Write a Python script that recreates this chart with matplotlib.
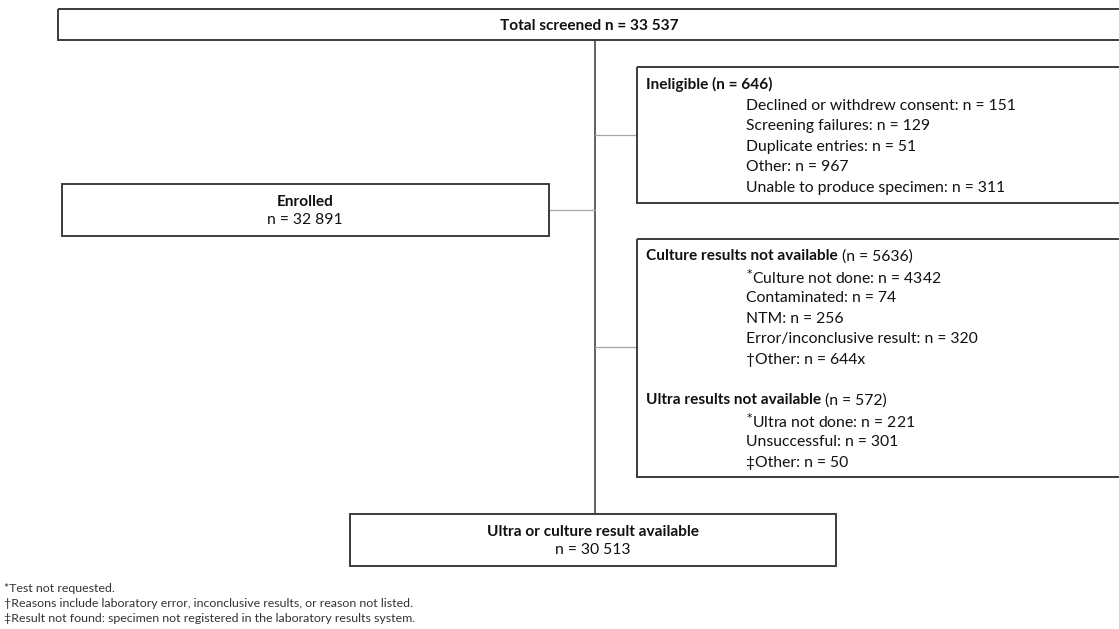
import matplotlib
matplotlib.use("Agg")
import matplotlib.pyplot as plt
from matplotlib.patches import Rectangle

plt.rcParams['font.family'] = ['Lato', 'DejaVu Sans']
plt.rcParams['mathtext.fontset'] = 'dejavusans'

# ---------------- data ----------------
total_label = "Total screened n = 33 537"
enrolled_title = "Enrolled"
enrolled_n = "n = 32 891"

ineligible_title = "Ineligible (n = 646)"
ineligible_items = ["Declined or withdrew consent", "Screening failures",
                    "Duplicate entries", "Other", "Unable to produce specimen"]
ineligible_counts = ["151", "129", "51", "967", "311"]

culture_title = "Culture results not available"
culture_n = " (n = 5636)"
culture_items = ["$^{*}$Culture not done", "Contaminated", "NTM",
                 "Error/inconclusive result", "\u2020Other"]
culture_counts = ["4342", "74", "256", "320", "644x"]

ultra_title = "Ultra results not available"
ultra_n = " (n = 572)"
ultra_items = ["$^{*}$Ultra not done", "Unsuccessful", "\u2021Other"]
ultra_counts = ["221", "301", "50"]

final_title = "Ultra or culture result available"
final_n = "n = 30 513"

footnotes = ["*Test not requested.",
             "\u2020Reasons include laboratory error, inconclusive results, or reason not listed.",
             "\u2021Result not found: specimen not registered in the laboratory results system."]

# ---------------- figure ----------------
W, H = 1119, 629
fig = plt.figure(figsize=(W / 100, H / 100), dpi=100)
ax = fig.add_axes([0, 0, 1, 1])
ax.set_xlim(0, W)
ax.set_ylim(H, 0)
ax.axis('off')

BOX_EC = '#3c3c3c'
BOX_LW = 1.4
CON_C = '#a6a6a6'
TXT = '#111111'
FS = 11.3
FS_BOLD = 11.1
FS_FOOT = 8.9


def box(x0, y0, x1, y1):
    ax.add_patch(Rectangle((x0, y0), x1 - x0, y1 - y0, fill=False,
                           ec=BOX_EC, lw=BOX_LW, zorder=3))


def txt(x, y, s, bold=False, ha='left', size=None, color=TXT):
    if size is None:
        size = FS_BOLD if bold else FS
    return ax.text(x, y, s, ha=ha, va='center_baseline', fontsize=size,
                   fontweight='bold' if bold else 'normal', color=color, zorder=4)


# trunk
ax.plot([595, 595], [40, 514], color='#454545', lw=1.2, zorder=2)
# connectors
ax.plot([549, 595], [210, 210], color=CON_C, lw=0.9, zorder=2)
ax.plot([595, 637], [135, 135], color=CON_C, lw=0.9, zorder=2)
ax.plot([595, 637], [347, 347], color=CON_C, lw=0.9, zorder=2)

# top box
box(58, 9, 1135, 40)
txt(589, 25, total_label, bold=True, ha='center')

# enrolled
box(62, 184, 549, 236)
txt(305, 201, enrolled_title, bold=True, ha='center')
txt(305, 219, enrolled_n, ha='center')

# ineligible
box(637, 67, 1135, 203)
txt(646, 83, ineligible_title, bold=True)
step = 20.6
for i, (lab, c) in enumerate(zip(ineligible_items, ineligible_counts)):
    txt(746, 104 + i * step, f"{lab}: n = {c}")

# culture / ultra
box(637, 239, 1135, 477)
fig.canvas.draw()
renderer = fig.canvas.get_renderer()


def title_pair(x, y, bold_s, norm_s):
    t = txt(x, y, bold_s, bold=True)
    bb = t.get_window_extent(renderer=renderer)
    xe = ax.transData.inverted().transform((bb.x1, bb.y0))[0]
    txt(xe, y, norm_s)


title_pair(646, 255, culture_title, culture_n)
for i, (lab, c) in enumerate(zip(culture_items, culture_counts)):
    txt(746, 276 + i * step, f"{lab}: n = {c}")

title_pair(646, 399, ultra_title, ultra_n)
for i, (lab, c) in enumerate(zip(ultra_items, ultra_counts)):
    txt(746, 420 + i * step, f"{lab}: n = {c}")

# final
box(350, 514, 836, 566)
txt(593, 531, final_title, bold=True, ha='center')
txt(593, 549, final_n, ha='center')

# footnotes
for i, f in enumerate(footnotes):
    txt(4, 588 + i * 14.5, f, size=FS_FOOT, color='#333333')

fig.savefig("out.png", dpi=100)
